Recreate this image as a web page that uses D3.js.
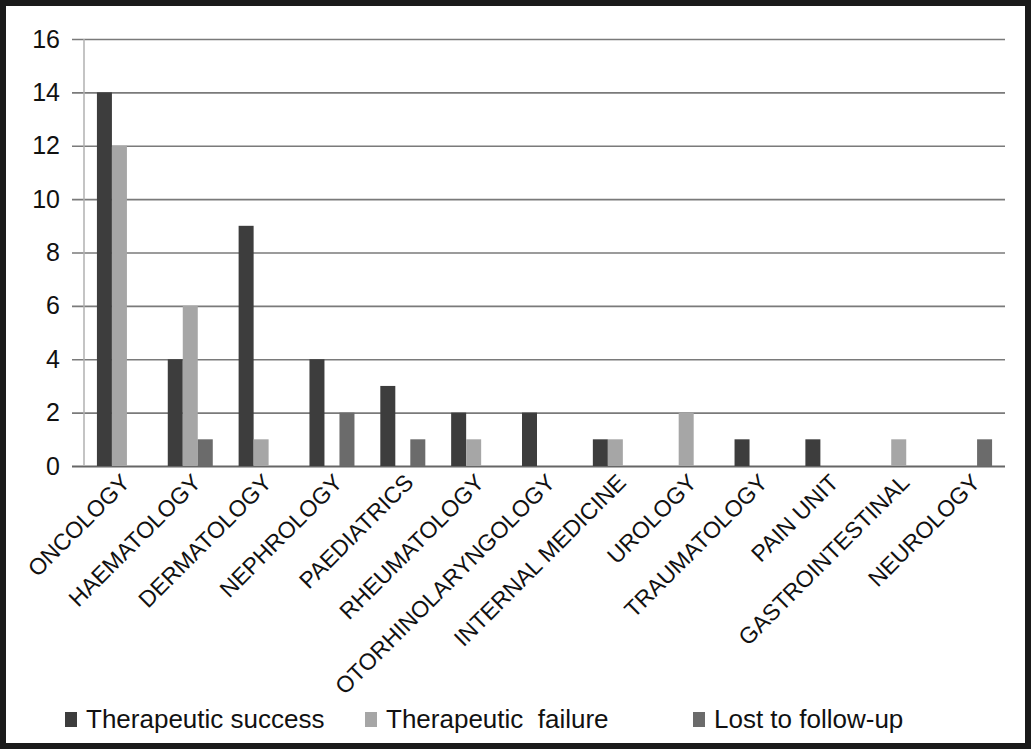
<!DOCTYPE html>
<html>
<head>
<meta charset="utf-8">
<script src="https://cdn.jsdelivr.net/npm/d3@7"></script>
<style>
  body { margin: 0; background: #fff; }
  text { font-family: "Liberation Sans", Arial, sans-serif; fill: #111; }
</style>
</head>
<body>
<svg width="1034" height="751"></svg>
<script>
const svg = d3.select("svg");
const width = +svg.attr("width");
const height = +svg.attr("height");

const categories = ["ONCOLOGY", "HAEMATOLOGY", "DERMATOLOGY", "NEPHROLOGY", "PAEDIATRICS",
  "RHEUMATOLOGY", "OTORHINOLARYNGOLOGY", "INTERNAL MEDICINE", "UROLOGY", "TRAUMATOLOGY",
  "PAIN UNIT", "GASTROINTESTINAL", "NEUROLOGY"];
const seriesNames = ["Therapeutic success", "Therapeutic  failure", "Lost to follow-up"];
const success = [14, 4, 9, 4, 3, 2, 2, 1, 0, 1, 1, 0, 0];
const failure = [12, 6, 1, 0, 0, 1, 0, 1, 2, 0, 0, 1, 0];
const lost    = [0, 1, 0, 2, 1, 0, 0, 0, 0, 0, 0, 0, 1];
const yTicks = [0, 2, 4, 6, 8, 10, 12, 14, 16];
const colors = ["#3d3d3d", "#a6a6a6", "#6b6b6b"];

const seriesValues = [success, failure, lost];

// frame
svg.append("rect")
  .attr("x", 3).attr("y", 3)
  .attr("width", width - 9).attr("height", height - 8)
  .attr("fill", "#fff")
  .attr("stroke", "#1a1a1a")
  .attr("stroke-width", 6);

const plotL = 84, plotR = 1005, plotT = 39, plotB = 466;

const x0 = d3.scaleBand().domain(categories).range([plotL, plotR]);
const groupW = 45;
const x1 = d3.scaleBand().domain(d3.range(3))
  .range([(x0.bandwidth() - groupW) / 2, (x0.bandwidth() + groupW) / 2]);
const y = d3.scaleLinear().domain([0, 16]).range([plotB, plotT]);

// gridlines + tick labels
const yAxis = svg.append("g")
  .attr("transform", `translate(${plotL},0)`)
  .call(d3.axisLeft(y).tickValues(yTicks).tickSize(-(plotR - plotL)).tickFormat(d3.format("d")));
yAxis.select(".domain").remove();
yAxis.selectAll(".tick line")
  .attr("x1", -12)
  .attr("stroke", d => d === 0 ? "#666" : "#7a7a7a")
  .attr("stroke-width", d => d === 0 ? 2 : 1.6);
yAxis.selectAll(".tick text")
  .attr("x", -24)
  .attr("font-size", 25)
  .attr("fill", "#111");

svg.append("line")
  .attr("x1", plotL).attr("x2", plotL)
  .attr("y1", plotT).attr("y2", plotB)
  .attr("stroke", "#b0b0b0").attr("stroke-width", 1.5);

// bars
const groups = svg.append("g").selectAll("g")
  .data(categories)
  .join("g")
  .attr("transform", d => `translate(${x0(d)},0)`);

groups.selectAll("rect")
  .data((d, i) => seriesValues.map((s, k) => ({ k, v: s[i] })))
  .join("rect")
  .attr("x", d => x1(d.k))
  .attr("width", x1.bandwidth())
  .attr("y", d => y(d.v))
  .attr("height", d => plotB - y(d.v))
  .attr("fill", d => colors[d.k]);

// category labels
svg.append("g").selectAll("text")
  .data(categories)
  .join("text")
  .attr("transform", d => `translate(${x0(d) + x0.bandwidth() / 2 + 12},${plotB + 18}) rotate(-45)`)
  .attr("text-anchor", "end")
  .attr("font-size", 23)
  .text(d => d);

// legend
const legendX = [65, 365, 693];
const legend = svg.append("g").selectAll("g")
  .data(seriesNames)
  .join("g")
  .attr("transform", (d, i) => `translate(${legendX[i]},712)`);
legend.append("rect")
  .attr("width", 12).attr("height", 15)
  .attr("fill", (d, i) => colors[i]);
legend.append("text")
  .attr("x", 21).attr("y", 16)
  .attr("font-size", 26)
  .style("white-space", "pre")
  .text(d => d);
</script>
</body>
</html>
